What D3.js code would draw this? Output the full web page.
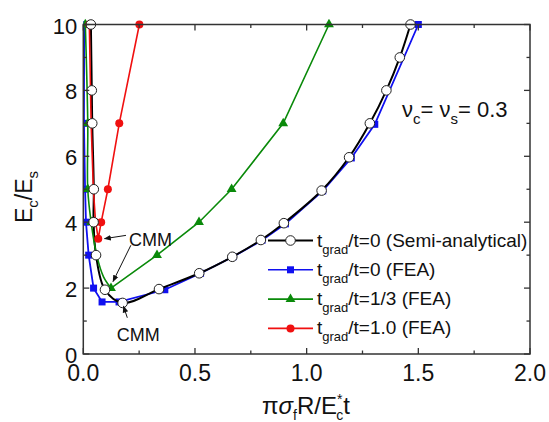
<!DOCTYPE html>
<html>
<head>
<meta charset="utf-8">
<script src="https://cdn.jsdelivr.net/npm/d3@7"></script>
<style>
  body { margin: 0; background: #fff; }
  text { font-family: "Liberation Sans", Arial, sans-serif; fill: #111; }
</style>
</head>
<body>
<div id="chart"></div>
<script>
// values, x = pi*sigma_f*R/(E_c* t), y = Ec/Es
var semiX = [0.034, 0.038, 0.040, 0.047, 0.046, 0.057, 0.097, 0.176, 0.339, 0.519, 0.667, 0.795, 0.898, 1.067, 1.19, 1.283, 1.357, 1.417, 1.465];
var semiY = [10, 8, 7, 5, 4, 3, 1.95, 1.55, 1.97, 2.45, 2.95, 3.46, 3.97, 4.96, 5.97, 7, 8, 9, 10];

var fea0X = [0.004, 0.003, 0.008, 0.012, 0.024, 0.046, 0.084, 0.16, 0.365, 0.525, 0.67, 0.8, 0.905, 1.072, 1.2, 1.305, 1.5];
var fea0Y = [10, 7, 5, 4, 3, 2, 1.58, 1.58, 1.95, 2.45, 2.95, 3.45, 3.95, 4.95, 5.95, 6.97, 10];

var fea13X = [0.009, 0.02, 0.02, 0.035, 0.124, 0.33, 0.518, 0.664, 0.895, 1.10];
var fea13Y = [10, 7, 5, 4, 2, 3, 4, 5, 7, 10];

var fea1X = [0.027, 0.035, 0.045, 0.055, 0.067, 0.08, 0.11, 0.161, 0.251];
var fea1Y = [10, 7, 5, 4, 3.5, 4, 5, 7, 10];

var xTicks = [0, 0.5, 1.0, 1.5, 2.0];
var yTicks = [0, 2, 4, 6, 8, 10];

var width = 549, height = 422;
var pL = 83.3, pR = 530, pT = 24.5, pB = 354;

var x = d3.scaleLinear().domain([0, 2]).range([pL, pR]);
var y = d3.scaleLinear().domain([0, 10]).range([pB, pT]);

var svg = d3.select("#chart").append("svg")
  .attr("width", width).attr("height", height);

function pts(xs, ys) {
  return xs.map(function (v, i) { return [v, ys[i]]; });
}

svg.append("clipPath").attr("id", "clip")
  .append("rect").attr("x", pL).attr("y", pT - 6)
  .attr("width", pR - pL + 6).attr("height", pB - pT + 6);

var plot = svg.append("g").attr("clip-path", "url(#clip)");

var line = d3.line().x(function (d) { return x(d[0]); }).y(function (d) { return y(d[1]); });
var smooth = d3.line().curve(d3.curveCatmullRom.alpha(0.5))
  .x(function (d) { return x(d[0]); }).y(function (d) { return y(d[1]); });

// blue FEA tgrad/t = 0
var blue = pts(fea0X, fea0Y);
plot.append("path").attr("d", line(blue)).attr("fill", "none")
  .attr("stroke", "#1010f0").attr("stroke-width", 1.8);
plot.selectAll(".sq").data(blue).enter().append("rect")
  .attr("x", function (d) { return x(d[0]) - 3.5; })
  .attr("y", function (d) { return y(d[1]) - 3.5; })
  .attr("width", 7).attr("height", 7).attr("fill", "#1010f0");

// black semi-analytical
var semi = pts(semiX, semiY);
plot.append("path").attr("d", smooth(semi)).attr("fill", "none")
  .attr("stroke", "#000").attr("stroke-width", 2);

// green FEA tgrad/t = 1/3
var green = pts(fea13X, fea13Y);
var greenLine = [green[0], green[1], green[2], green[3], [0.06, 3], [0.09, 2.35], green[4]];
plot.append("path").attr("d", smooth(greenLine)).attr("fill", "none")
  .attr("stroke", "#0a8a0a").attr("stroke-width", 1.6);
plot.append("path").attr("d", line(green.slice(4))).attr("fill", "none")
  .attr("stroke", "#0a8a0a").attr("stroke-width", 1.6);
var tri = d3.symbol().type(d3.symbolTriangle).size(42);
plot.selectAll(".tri").data(green).enter().append("path")
  .attr("d", tri)
  .attr("transform", function (d) { return "translate(" + x(d[0]) + "," + y(d[1]) + ")"; })
  .attr("fill", "#0a8a0a");

// red FEA tgrad/t = 1.0
var red = pts(fea1X, fea1Y);
plot.append("path").attr("d", line(red)).attr("fill", "none")
  .attr("stroke", "#f01010").attr("stroke-width", 1.6);
plot.selectAll(".rc").data(red).enter().append("circle")
  .attr("cx", function (d) { return x(d[0]); })
  .attr("cy", function (d) { return y(d[1]); })
  .attr("r", 4).attr("fill", "#f01010");

// open circles on top
plot.selectAll(".oc").data(semi).enter().append("circle")
  .attr("cx", function (d) { return x(d[0]); })
  .attr("cy", function (d) { return y(d[1]); })
  .attr("r", 4.8).attr("fill", "#fff").attr("stroke", "#222").attr("stroke-width", 1);

// frame and ticks
svg.append("rect").attr("x", pL).attr("y", pT)
  .attr("width", pR - pL).attr("height", pB - pT)
  .attr("fill", "none").attr("stroke", "#333").attr("stroke-width", 1.5);

var xMinor = d3.range(0, 2.01, 0.25);
var yMinor = d3.range(0, 10.01, 1);
var tk = svg.append("g").attr("stroke", "#333").attr("stroke-width", 1.3);
xMinor.forEach(function (v, i) {
  var len = (i % 2 === 0) ? 6 : 3.5;
  tk.append("line").attr("x1", x(v)).attr("x2", x(v)).attr("y1", pB).attr("y2", pB - len);
  tk.append("line").attr("x1", x(v)).attr("x2", x(v)).attr("y1", pT).attr("y2", pT + len);
});
yMinor.forEach(function (v, i) {
  var len = (i % 2 === 0) ? 6 : 3.5;
  tk.append("line").attr("y1", y(v)).attr("y2", y(v)).attr("x1", pL).attr("x2", pL + len);
  tk.append("line").attr("y1", y(v)).attr("y2", y(v)).attr("x1", pR).attr("x2", pR - len);
});

svg.selectAll(".xl").data(xTicks).enter().append("text")
  .attr("x", function (d) { return x(d); }).attr("y", pB + 27)
  .attr("text-anchor", "middle").attr("font-size", 23)
  .text(function (d) { return d3.format(".1f")(d); });
svg.selectAll(".yl").data(yTicks).enter().append("text")
  .attr("x", pL - 6).attr("y", function (d) { return y(d) + 9; })
  .attr("text-anchor", "end").attr("font-size", 22)
  .text(function (d) { return d; });

// axis titles
var yt = svg.append("text").attr("transform", "translate(32,197) rotate(-90)")
  .attr("text-anchor", "middle").attr("font-size", 23);
yt.append("tspan").text("E");
yt.append("tspan").attr("font-size", 15).attr("dy", 6).text("c");
yt.append("tspan").attr("dy", -6).text("/E");
yt.append("tspan").attr("font-size", 15).attr("dy", 6).text("s");

var xt = svg.append("text").attr("x", 306).attr("y", 414)
  .attr("text-anchor", "middle").attr("font-size", 24);
xt.append("tspan").text("\u03c0");
xt.append("tspan").attr("font-style", "italic").text("\u03c3");
xt.append("tspan").attr("font-size", 14).attr("dy", 6).text("f");
xt.append("tspan").attr("dy", -6).text("R/E");
xt.append("tspan").attr("font-size", 14).attr("dy", -10).text("*");
xt.append("tspan").attr("font-size", 14).attr("dx", -6).attr("dy", 16).text("c");
xt.append("tspan").attr("dy", -6).text("t");

// nu label
var nu = svg.append("text").attr("x", 402).attr("y", 117).attr("font-size", 22);
nu.append("tspan").text("\u03bd");
nu.append("tspan").attr("font-size", 15).attr("dy", 7).text("c");
nu.append("tspan").attr("dy", -7).text("= \u03bd");
nu.append("tspan").attr("font-size", 15).attr("dy", 7).text("s");
nu.append("tspan").attr("dy", -7).text("= 0.3");

// CMM annotations (data coordinates)
var marker = svg.append("defs").append("marker").attr("id", "arr")
  .attr("viewBox", "0 0 10 10").attr("refX", 9).attr("refY", 5)
  .attr("markerWidth", 7).attr("markerHeight", 7).attr("orient", "auto-start-reverse");
marker.append("path").attr("d", "M0,1 L10,5 L0,9 Z").attr("fill", "#111");

var arrows = [
  [[0.191, 3.6], [0.095, 3.5]],
  [[0.213, 3.3], [0.133, 2.2]],
  [[0.197, 1.1], [0.18, 1.45]]
];
arrows.forEach(function (a) {
  svg.append("line")
    .attr("x1", x(a[0][0])).attr("y1", y(a[0][1]))
    .attr("x2", x(a[1][0])).attr("y2", y(a[1][1]))
    .attr("stroke", "#111").attr("stroke-width", 1).attr("marker-end", "url(#arr)");
});
svg.append("text").attr("x", x(0.205)).attr("y", y(3.5) + 7).attr("font-size", 18).text("CMM");
svg.append("text").attr("x", x(0.150)).attr("y", y(0.38)).attr("font-size", 18).text("CMM");

// legend
var legend = [
  { label: "/t=0 (Semi-analytical)", color: "#000", kind: "open" },
  { label: "/t=0 (FEA)", color: "#1010f0", kind: "square" },
  { label: "/t=1/3 (FEA)", color: "#0a8a0a", kind: "triangle" },
  { label: "/t=1.0 (FEA)", color: "#f01010", kind: "dot" }
];
var lg = svg.append("g");
legend.forEach(function (d, i) {
  var ly = 240.5 + i * 29.3;
  lg.append("line").attr("x1", 268).attr("x2", 313).attr("y1", ly).attr("y2", ly)
    .attr("stroke", d.color).attr("stroke-width", d.kind === "open" ? 2 : 1.6);
  if (d.kind === "open") {
    lg.append("circle").attr("cx", 290.5).attr("cy", ly).attr("r", 4.8)
      .attr("fill", "#fff").attr("stroke", "#222");
  } else if (d.kind === "square") {
    lg.append("rect").attr("x", 287).attr("y", ly - 3.5).attr("width", 7).attr("height", 7).attr("fill", d.color);
  } else if (d.kind === "triangle") {
    lg.append("path").attr("d", tri).attr("transform", "translate(290.5," + ly + ")").attr("fill", d.color);
  } else {
    lg.append("circle").attr("cx", 290.5).attr("cy", ly).attr("r", 4).attr("fill", d.color);
  }
  var t = lg.append("text").attr("x", 317).attr("y", ly + 6).attr("font-size", 19);
  t.append("tspan").text("t");
  t.append("tspan").attr("font-size", 13).attr("dy", 7).text("grad");
  t.append("tspan").attr("dy", -7).text(d.label);
});
</script>
</body>
</html>
